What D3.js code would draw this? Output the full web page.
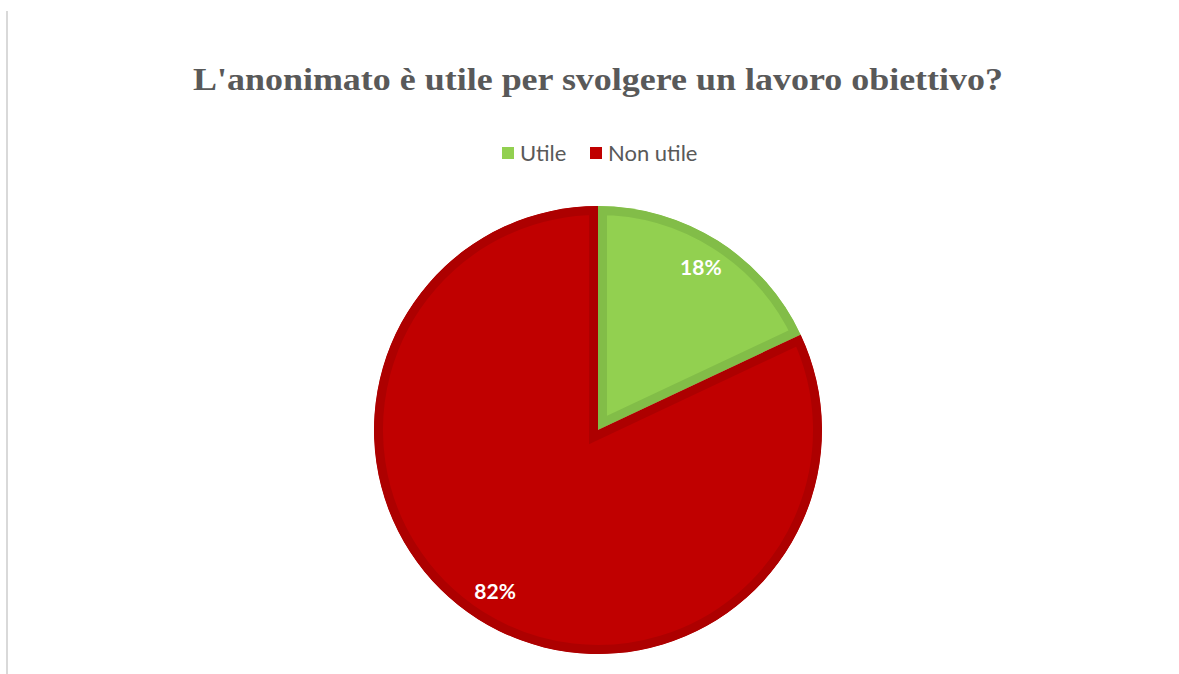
<!DOCTYPE html>
<html>
<head>
<meta charset="utf-8">
<script src="https://cdn.jsdelivr.net/npm/d3@7"></script>
<style>
  body { margin: 0; background: #fff; }
</style>
</head>
<body>
<script>
// chart data
const categories = ['Utile', 'Non utile'];
const values = [18, 82];
const labels = ['18%', '82%'];
const fills = ['#92D050', '#C00000'];
const borders = ['#82BD48', '#AD0000'];

const width = 1179, height = 674;
const cx = 598, cy = 430, radius = 224;

const svg = d3.select('body').append('svg')
  .attr('width', width)
  .attr('height', height);

// thin frame line on the left
svg.append('line')
  .attr('x1', 7).attr('x2', 7)
  .attr('y1', 11).attr('y2', height)
  .attr('stroke', '#d9d9d9')
  .attr('stroke-width', 2);

// title
svg.append('text')
  .attr('x', cx)
  .attr('y', 90)
  .attr('text-anchor', 'middle')
  .attr('font-family', 'Liberation Serif, serif')
  .attr('font-weight', 'bold')
  .attr('font-size', 31)
  .attr('textLength', 810)
  .attr('lengthAdjust', 'spacingAndGlyphs')
  .attr('fill', '#595959')
  .text("L'anonimato è utile per svolgere un lavoro obiettivo?");

// legend
const legendX = [502, 590];
const legend = svg.append('g');
categories.forEach((c, i) => {
  legend.append('rect')
    .attr('x', legendX[i])
    .attr('y', 147)
    .attr('width', 12)
    .attr('height', 12)
    .attr('fill', fills[i]);
  legend.append('text')
    .attr('x', legendX[i] + 18)
    .attr('y', 161)
    .attr('font-family', 'Lato, sans-serif')
    .attr('font-size', 22)
    .attr('fill', '#595959')
    .text(c);
});

// pie
const pie = d3.pie().sort(null).value(d => d);
const arc = d3.arc().innerRadius(0).outerRadius(radius);
const arcs = pie(values);

const g = svg.append('g').attr('transform', `translate(${cx},${cy})`);
const defs = svg.append('defs');

arcs.forEach((a, i) => {
  defs.append('clipPath')
    .attr('id', 'clip' + i)
    .append('path')
    .attr('d', arc(a));
});

g.selectAll('path.slice')
  .data(arcs)
  .enter().append('path')
  .attr('class', 'slice')
  .attr('d', arc)
  .attr('fill', (d, i) => fills[i])
  .attr('stroke', (d, i) => borders[i])
  .attr('stroke-width', 18)
  .attr('stroke-linejoin', 'miter')
  .attr('clip-path', (d, i) => `url(#clip${i})`);

// data labels
const labelArc = d3.arc().innerRadius(radius * 0.857).outerRadius(radius * 0.857);
g.selectAll('text.lbl')
  .data(arcs)
  .enter().append('text')
  .attr('class', 'lbl')
  .attr('transform', d => `translate(${labelArc.centroid(d)})`)
  .attr('dy', '0.35em')
  .attr('text-anchor', 'middle')
  .attr('font-family', 'Lato, sans-serif')
  .attr('font-weight', 'bold')
  .attr('font-size', 21)
  .attr('fill', '#fff')
  .text((d, i) => labels[i]);
</script>
</body>
</html>
